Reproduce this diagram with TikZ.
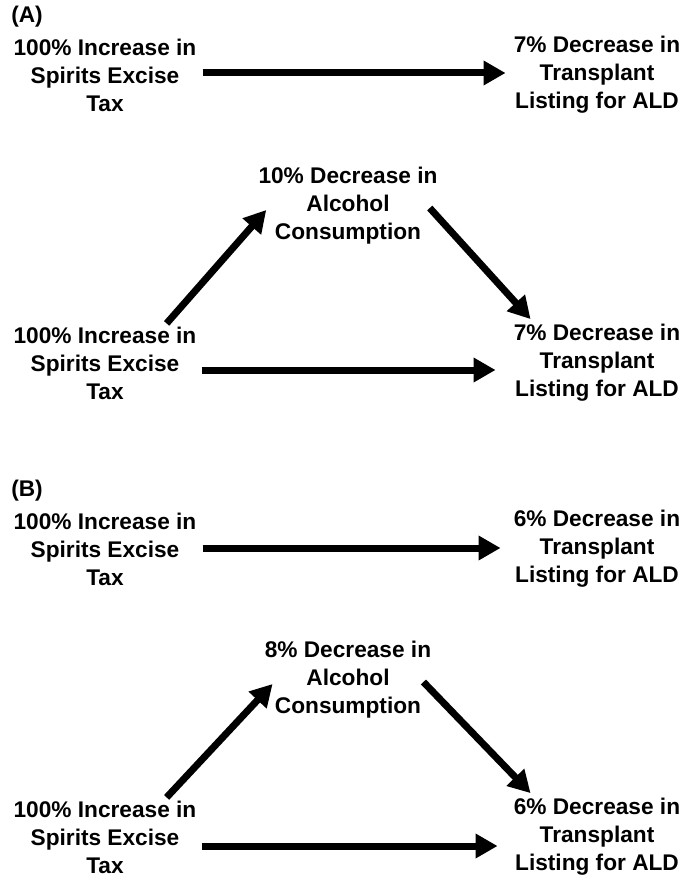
\documentclass[tikz,border=0pt]{standalone}
\usepackage{fontspec}
\setmainfont{Liberation Sans}
\usetikzlibrary{arrows.meta,calc}
\begin{document}
\begin{tikzpicture}[x=0.75pt,y=-0.75pt,
  lbl/.style={inner sep=0pt,align=center,font=\bfseries\fontsize{17}{21}\selectfont},
  tag/.style={inner sep=0pt,anchor=west,font=\bfseries\fontsize{17}{21}\selectfont},
  arr/.style={line width=5.25pt,-{Triangle[length=16.5pt,width=17.5pt]}}]
\useasboundingbox (0,0) rectangle (694,884);
% Panel A
\node[tag] (tA) at (11,17) {(A)};
\node[lbl] (lA1) at (105,75) {100\% Increase in\\Spirits Excise\\Tax};
\node[lbl] (rA1) at (597,75) {7\% Decrease in\\Transplant\\Listing for ALD};
\node[lbl] (mA) at (348,206) {10\% Decrease in\\Alcohol\\Consumption};
\node[lbl] (lA2) at (105,363) {100\% Increase in\\Spirits Excise\\Tax};
\node[lbl] (rA2) at (597,363) {7\% Decrease in\\Transplant\\Listing for ALD};
\draw[arr] ($(lA1.east)+(6,-2)$) -- ($(rA1.west)+(-8,-2)$);
\draw[arr] ($(lA2.north east)+(-30,-3)$) -- ($(mA.west)+(8,4)$);
\draw[arr] ($(mA.east)+(-8,2)$) -- ($(rA2.north west)+(17,-5)$);
\draw[arr] ($(lA2.east)+(5,7)$) -- ($(rA2.west)+(-18,7)$);
% Panel B
\node[tag] (tB) at (11,491) {(B)};
\node[lbl] (lB1) at (105,549) {100\% Increase in\\Spirits Excise\\Tax};
\node[lbl] (rB1) at (597,549) {6\% Decrease in\\Transplant\\Listing for ALD};
\node[lbl] (mB) at (348,680) {8\% Decrease in\\Alcohol\\Consumption};
\node[lbl] (lB2) at (105,837) {100\% Increase in\\Spirits Excise\\Tax};
\node[lbl] (rB2) at (597,837) {6\% Decrease in\\Transplant\\Listing for ALD};
\draw[arr] ($(lB1.east)+(6,-1)$) -- ($(rB1.west)+(-13,-1)$);
\draw[arr] ($(lB2.north east)+(-30,-3)$) -- ($(mB.west)+(8,4)$);
\draw[arr] ($(mB.east)+(-8,2)$) -- ($(rB2.north west)+(17,-5)$);
\draw[arr] ($(lB2.east)+(5,9)$) -- ($(rB2.west)+(-16,9)$);
\end{tikzpicture}
\end{document}
